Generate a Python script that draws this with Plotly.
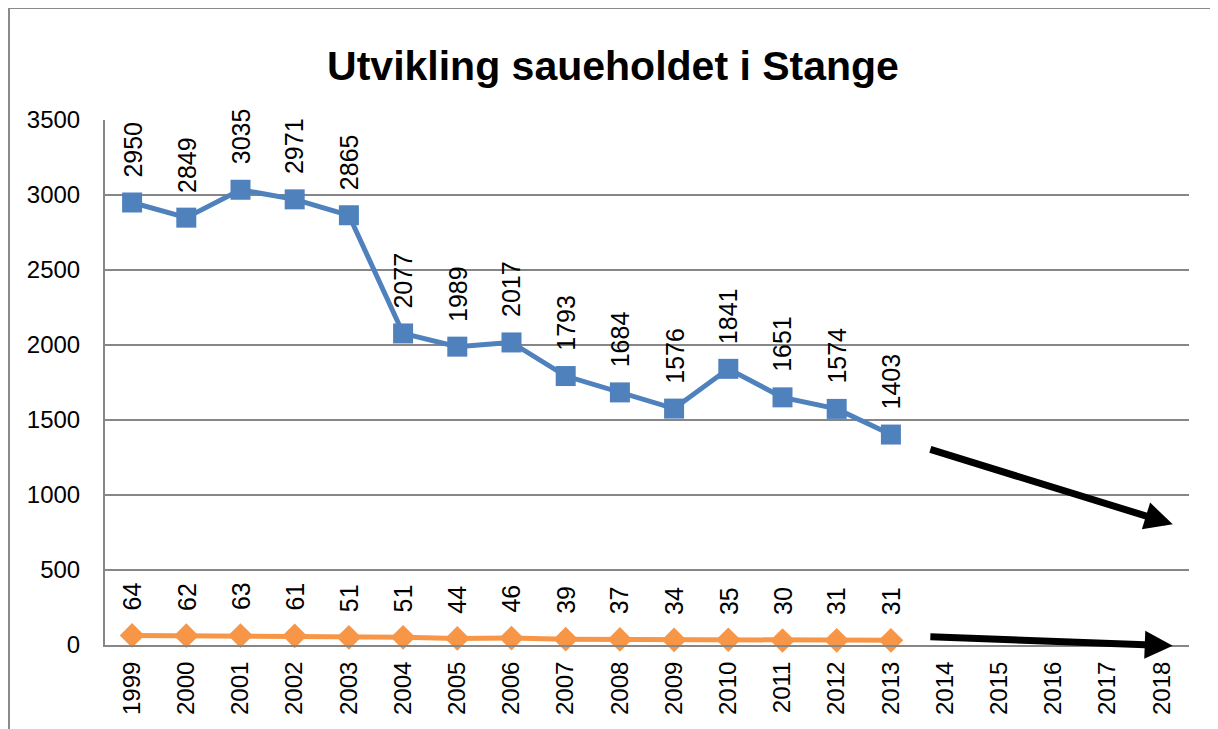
import plotly.graph_objects as go

years = [str(y) for y in range(1999, 2019)]
sheep = [2950, 2849, 3035, 2971, 2865, 2077, 1989, 2017, 1793, 1684, 1576, 1841, 1651, 1574, 1403,
         None, None, None, None, None]
farms = [64, 62, 63, 61, 51, 51, 44, 46, 39, 37, 34, 35, 30, 31, 31,
         None, None, None, None, None]
y_ticks = [0, 500, 1000, 1500, 2000, 2500, 3000, 3500]
title_text = "Utvikling saueholdet i Stange"

# trend arrows (start/end in category index, value)
arrow_upper = ((14.7, 1307), (19.2, 805))
arrow_lower = ((14.7, 55), (19.2, -5))

BLUE = "#4F81BD"
ORANGE = "#F79646"
FONT = "Liberation Sans"

fig = go.Figure()
fig.add_trace(go.Scatter(x=years, y=sheep, mode="lines+markers",
                         line=dict(color=BLUE, width=5),
                         marker=dict(symbol="square", size=20, color=BLUE),
                         cliponaxis=False, showlegend=False))
fig.add_trace(go.Scatter(x=years, y=farms, mode="lines+markers",
                         line=dict(color=ORANGE, width=5),
                         marker=dict(symbol="diamond", size=19, color=ORANGE),
                         cliponaxis=False, showlegend=False))

annotations = []
for series in (sheep, farms):
    for i, v in enumerate(series):
        if v is None:
            continue
        annotations.append(dict(x=i, y=v, xref="x", yref="y", text=str(v),
                                textangle=-90, showarrow=False, yanchor="bottom",
                                xanchor="center", yshift=23,
                                font=dict(family=FONT, size=25, color="black")))

for (x0, y0), (x1, y1) in (arrow_upper, arrow_lower):
    annotations.append(dict(x=x1, y=y1, ax=x0, ay=y0, xref="x", yref="y",
                            axref="x", ayref="y", showarrow=True, arrowhead=2,
                            arrowsize=0.8, arrowwidth=7, arrowcolor="black", text=""))

W, H = 1210, 721
fig.update_layout(
    width=W, height=H,
    margin=dict(l=97, r=29, t=112, b=84),
    paper_bgcolor="white", plot_bgcolor="white",
    title=dict(text=title_text, x=0.5, xanchor="center", y=0.92, yanchor="middle",
               font=dict(family=FONT, size=41, color="black", weight="bold")),
    xaxis=dict(type="category", categoryorder="array", categoryarray=years,
               tickangle=-90, showgrid=False, showline=True, linecolor="#868686", linewidth=2,
               ticks="outside", ticklen=5, tickcolor="rgba(0,0,0,0)",
               tickfont=dict(family=FONT, size=24, color="black"),
               range=[-0.5, 19.5]),
    yaxis=dict(range=[0, 3500], tickvals=y_ticks, showgrid=True, gridcolor="#868686",
               gridwidth=2, showline=True, linecolor="#868686", linewidth=2,
               zeroline=False, ticks="outside", ticklen=18, tickcolor="rgba(0,0,0,0)",
               tickfont=dict(family=FONT, size=24, color="black")),
    annotations=annotations,
    shapes=[dict(type="rect", xref="paper", yref="paper",
                 x0=(1 - 97) / 1084, x1=(1208 - 97) / 1084,
                 y0=-0.3, y1=(637) / 525,
                 line=dict(color="#8a8a8a", width=2), layer="below")],
)

fig.write_html("out.html")
